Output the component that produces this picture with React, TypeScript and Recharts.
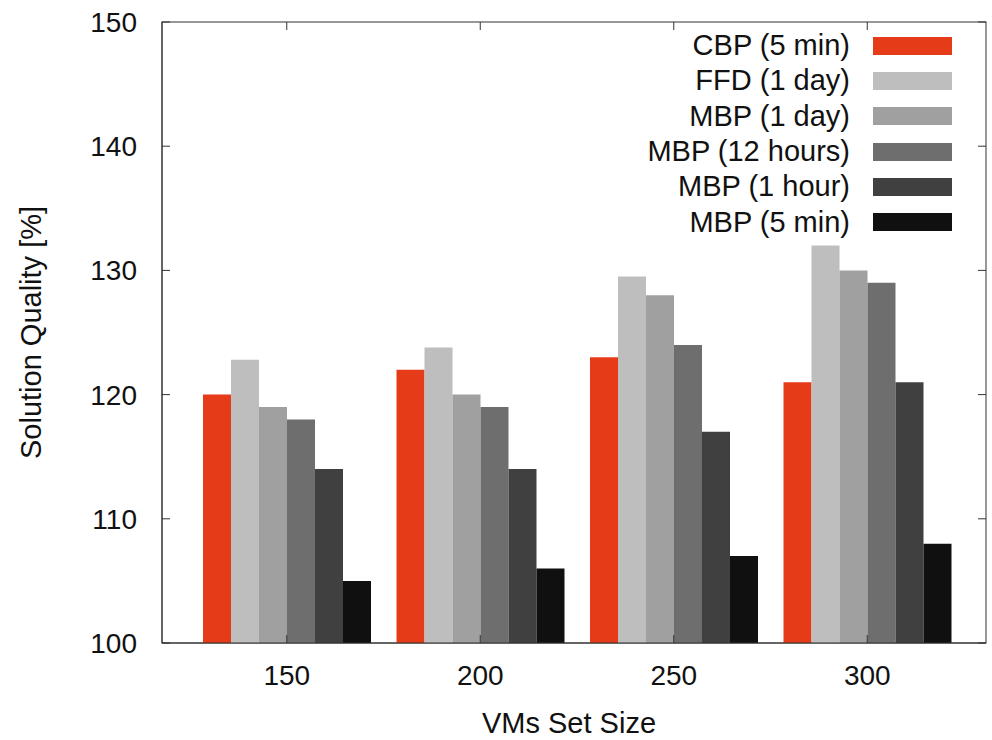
import { Bar, BarChart, Legend, XAxis, YAxis } from "recharts";

const sizes = ["150", "200", "250", "300"];
const cbp5min = [120, 122, 123, 121];
const ffd1day = [122.8, 123.8, 129.5, 132];
const mbp1day = [119, 120, 128, 130];
const mbp12h = [118, 119, 124, 129];
const mbp1h = [114, 114, 117, 121];
const mbp5min = [105, 106, 107, 108];
const yTicks = [100, 110, 120, 130, 140, 150];

const series = [
  { key: "cbp5min", name: "CBP (5 min)", color: "#e53b19", values: cbp5min },
  { key: "ffd1day", name: "FFD (1 day)", color: "#bebebe", values: ffd1day },
  { key: "mbp1day", name: "MBP (1 day)", color: "#a0a0a0", values: mbp1day },
  { key: "mbp12h", name: "MBP (12 hours)", color: "#6e6e6e", values: mbp12h },
  { key: "mbp1h", name: "MBP (1 hour)", color: "#404040", values: mbp1h },
  { key: "mbp5min", name: "MBP (5 min)", color: "#101010", values: mbp5min },
];

const data = sizes.map((size, i) => {
  const row: Record<string, number | string> = { size };
  series.forEach((s) => (row[s.key] = s.values[i]));
  return row;
});

const FONT = '"Liberation Sans", Arial, Helvetica, sans-serif';
const AXIS = "#333";
// plot box (margins + axis sizes below)
const PLOT = { left: 162, right: 986, top: 22, bottom: 643 };
const TICK = 8;

// gnuplot style: inward ticks on both the left and right border
function YTick(props: any) {
  const { y, payload } = props;
  return (
    <g>
      <line x1={PLOT.left} x2={PLOT.left + TICK} y1={y} y2={y} stroke={AXIS} />
      <line x1={PLOT.right - TICK} x2={PLOT.right} y1={y} y2={y} stroke={AXIS} />
      <text x={PLOT.left - 25} y={y} dy="0.355em" textAnchor="end" fontSize={28} fontFamily={FONT} fill="#111">
        {payload.value}
      </text>
    </g>
  );
}

function XTick(props: any) {
  const { x, payload } = props;
  return (
    <g>
      <line x1={x} x2={x} y1={PLOT.bottom - TICK} y2={PLOT.bottom} stroke={AXIS} />
      <line x1={x} x2={x} y1={PLOT.top} y2={PLOT.top + TICK} stroke={AXIS} />
      <text x={x} y={685} textAnchor="middle" fontSize={28} fontFamily={FONT} fill="#111">
        {payload.value}
      </text>
    </g>
  );
}

function YTitle(props: any) {
  const vb = props.viewBox || {};
  const x = vb.x + 31;
  const y = vb.y + vb.height / 2;
  return (
    <text
      x={x}
      y={y}
      transform={`rotate(-90, ${x}, ${y})`}
      textAnchor="middle"
      dominantBaseline="central"
      fontSize={29}
      fontFamily={FONT}
      fill="#111"
    >
      Solution Quality [%]
    </text>
  );
}

function LegendBox() {
  return (
    <div style={{ fontFamily: FONT, fontSize: 29, color: "#111" }}>
      {series.map((s) => (
        <div key={s.key} style={{ display: "flex", alignItems: "center", height: 35.3 }}>
          <span style={{ width: 260, textAlign: "right", lineHeight: 1, whiteSpace: "nowrap" }}>{s.name}</span>
          <span style={{ width: 79, height: 18, background: s.color, marginLeft: 23 }} />
        </div>
      ))}
    </div>
  );
}

export default function App() {
  return (
    <div style={{ width: 992, height: 740, background: "#fff" }}>
      <style>{`body{margin:0}`}</style>
      <BarChart
        width={992}
        height={740}
        data={data}
        margin={{ top: 22, right: 6, bottom: 0, left: 0 }}
        barCategoryGap={13}
        barGap={0}
      >
        <XAxis
          dataKey="size"
          height={97}
          padding={{ left: 28, right: 22 }}
          stroke={AXIS}
          tickLine={false}
          tick={<XTick />}
          label={{ value: "VMs Set Size", position: "insideBottom", offset: 7, dx: -5, style: { fontSize: 29, fontFamily: FONT, fill: "#111" } }}
        />
        <YAxis
          width={162}
          domain={[100, 150]}
          ticks={yTicks}
          allowDataOverflow
          stroke={AXIS}
          tickLine={false}
          tick={<YTick />}
          label={<YTitle />}
        />
        <Legend
          layout="vertical"
          align="center"
          verticalAlign="middle"
          content={<LegendBox />}
          wrapperStyle={{ left: 590, top: 28, width: 362 }}
        />
        {series.map((s) => (
          <Bar key={s.key} dataKey={s.key} name={s.name} fill={s.color} isAnimationActive={false} />
        ))}
        <rect
          x={PLOT.left}
          y={PLOT.top}
          width={PLOT.right - PLOT.left}
          height={PLOT.bottom - PLOT.top}
          fill="none"
          stroke={AXIS}
        />
      </BarChart>
    </div>
  );
}
